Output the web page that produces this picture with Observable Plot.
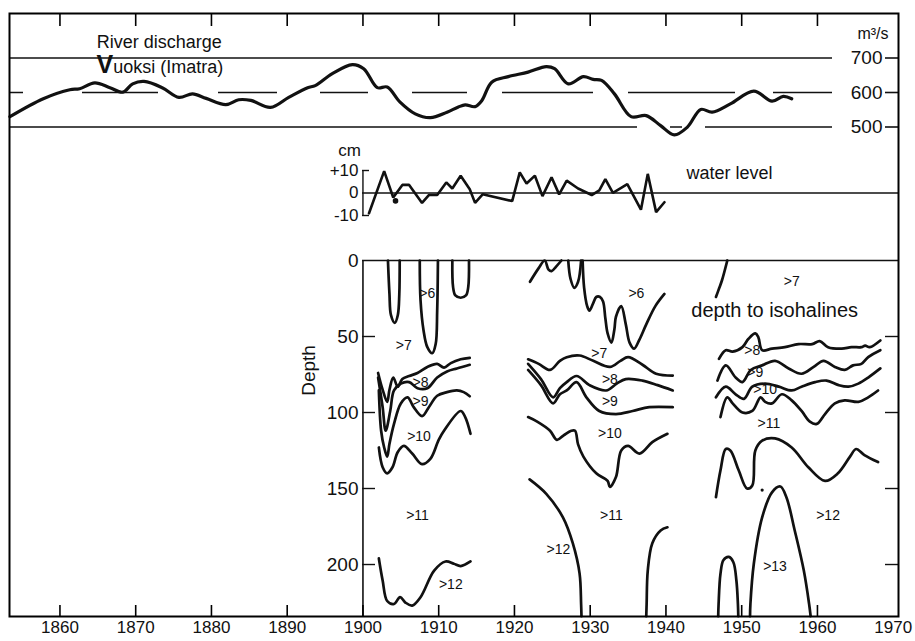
<!DOCTYPE html>
<html><head><meta charset="utf-8">
<script src="https://cdn.jsdelivr.net/npm/d3@7"></script>
<script src="https://cdn.jsdelivr.net/npm/@observablehq/plot@0.6"></script>
<style>
body{margin:0;background:#fff;}
#chart{width:915px;height:641px;}
</style></head><body><div id="chart"></div>
<script>
// ---------- shared axis ----------
const decadeTicks = [1860,1870,1880,1890,1900,1910,1920,1930,1940,1950,1960];
const yearLabels = [1860,1870,1880,1890,1900,1910,1920,1930,1940,1950,1960,1970];
const depthAxisYear = [1900];

// ---------- river discharge (m3/s) ----------
const dischargeYears = [1853.4,1857.8,1861.3,1862.6,1864.6,1866.6,1868.3,1869.6,1871.1,1873.5,1875.7,1877.5,1879.3,1881.9,1883.6,1885.2,1887.8,1890.2,1892.7,1893.7,1895.9,1898.6,1900.1,1901.9,1903.2,1904.9,1906.9,1908.9,1911.1,1912.6,1913.5,1914.8,1915.7,1917.0,1919.2,1921.8,1924.2,1925.3,1927.1,1929.1,1930.4,1931.5,1933.2,1935.4,1937.4,1939.3,1941.1,1942.8,1944.6,1946.1,1948.5,1951.6,1954.0,1955.5,1956.6];
const dischargeValues = [530,582,608,611,628,614,601,625,632,614,586,596,583,565,579,577,557,586,614,620,654,681,669,614,616,572,538,527,543,558,564,559,577,630,646,659,675,669,625,646,638,635,596,530,533,504,477,499,551,543,567,604,575,589,582];
const dischargeTicks = [500,600,700];

// ---------- water level (cm) ----------
const levelYears = [1900.8,1902.8,1904.0,1905.2,1906.1,1907.8,1908.7,1909.8,1911.0,1911.8,1912.9,1914.1,1914.8,1915.8,1919.7,1920.7,1921.6,1922.7,1923.7,1924.9,1925.9,1926.9,1928.4,1930.2,1931.2,1932.0,1933.0,1934.9,1936.7,1937.6,1938.7,1939.8];
const levelValues = [-9,9.7,-2,3.6,3.6,-4.4,-0.9,-0.9,4.7,2,7.7,1.7,-4.4,-0.6,-3.6,9.2,4.2,7.7,-1.4,7,-0.6,5.5,2,-0.9,1.2,6.2,0.1,3.9,-7.4,8.5,-8.5,-4.1];
const levelDot = [[1904.3,-3.5]];
const levelTicks = [-10,0,10];

// ---------- depth to isohalines (year, depth m) ----------
const iso6_1903 = [[1903.3,0],[1903.5,22],[1903.7,36],[1904.2,41],[1904.6,36],[1904.8,22],[1904.85,0]];
const iso6_1908 = [[1907.5,0],[1907.6,26],[1908.0,46],[1908.5,57],[1909.15,61],[1909.6,55],[1909.8,33],[1909.9,0]];
const iso6_1912 = [[1911.8,0],[1911.9,17.5],[1912.2,23],[1912.9,24.5],[1913.6,23],[1913.9,17.5],[1914.0,0]];
const iso8_a = [[1902.0,74],[1902.6,85],[1903.2,93],[1903.5,85],[1904.0,77],[1904.6,83],[1905.2,78],[1906.1,76],[1907.2,74],[1908.5,70],[1909.8,68],[1910.7,70.5],[1911.6,67.5],[1912.9,65],[1914.1,64]];
const iso9_a = [[1902.0,77],[1902.6,96.5],[1903.0,112],[1903.6,99],[1904.1,85.5],[1905.0,81],[1906.1,80],[1907.2,84],[1908.5,84],[1909.8,77],[1911.1,73],[1912.4,71],[1914.1,68.6]];
const iso10_a = [[1902.1,85.5],[1902.4,112],[1902.8,123],[1903.2,129],[1903.5,120.6],[1904.1,107.5],[1905.0,94],[1905.9,90],[1906.7,96.5],[1907.8,102.4],[1908.7,96.5],[1909.8,89],[1911.1,86.6],[1912.4,85.5],[1913.3,86.6],[1914.1,89.3]];
const iso11_a = [[1902.1,123],[1902.6,136],[1903.2,140],[1903.9,136],[1904.6,126],[1905.4,122],[1906.5,127],[1907.8,134],[1908.9,130.5],[1910.0,118],[1910.7,112],[1912.9,99],[1913.5,103],[1914.2,114]];
const iso12_a = [[1902.1,196],[1902.6,210.5],[1903.2,224],[1904.1,226],[1904.9,221.5],[1905.6,225],[1906.5,227],[1907.6,221.5],[1909.4,204],[1910.9,198],[1912.0,199.5],[1912.9,201],[1914.2,198]];

const iso6_1924 = [[1922.05,14],[1923.2,5],[1924.0,0],[1924.5,6],[1924.9,7],[1925.5,4],[1926.2,0]];
const iso6_1928 = [[1927.1,0],[1927.4,12],[1927.9,18],[1928.4,14],[1928.8,0]];
const iso6_1934 = [[1929.0,0],[1929.2,18],[1929.6,30],[1929.9,33],[1930.4,28],[1930.8,24],[1931.3,24],[1931.7,27],[1932.0,38],[1932.3,48],[1932.8,54],[1933.2,45],[1933.4,37],[1934.1,30],[1934.7,42],[1935.2,54],[1935.8,58],[1936.5,52],[1937.4,42],[1938.6,30],[1939.8,22]];
const iso7_b = [[1921.8,65],[1923.2,68],[1924.7,72],[1926.0,66],[1926.9,63.6],[1928.6,62.5],[1930.4,66],[1932.6,70],[1934.0,66],[1935.0,63.6],[1936.9,68.6],[1938.7,74.5],[1940.9,75.7]];
const iso8_b = [[1921.8,68],[1923.5,78],[1925.1,90],[1926.0,84],[1926.9,80],[1928.2,76],[1929.9,82],[1932.1,85.5],[1933.5,81],[1934.7,78],[1936.9,79],[1938.9,82],[1940.9,85.5]];
const iso9_b = [[1921.8,72],[1923.5,82],[1925.1,94],[1926.0,88],[1926.9,85.5],[1928.2,80],[1929.5,90],[1931.2,99],[1933.4,101],[1935.6,99],[1937.8,96.5],[1940.9,96.5]];
const iso10_b = [[1921.8,103],[1923.0,106],[1924.7,112],[1925.6,118],[1926.5,115],[1927.5,112],[1928.0,112],[1928.4,121],[1929.1,129],[1930.8,140],[1932.3,145],[1932.6,149],[1933.4,142.5],[1934.1,125],[1935.0,122],[1936.5,127],[1938.2,119.5],[1940.2,114]];
const iso12_b1 = [[1922.0,144],[1924.2,153.5],[1926.4,169],[1927.7,186],[1928.6,206],[1928.8,226],[1928.85,234]];
const iso12_b2 = [[1937.4,234],[1937.45,226],[1937.6,204],[1938.2,186],[1939.3,177.6],[1940.2,175.5]];

const iso7_c = [[1946.6,24],[1947.0,18.6],[1947.4,13],[1948.1,0]];
const iso8_c = [[1947.0,64.7],[1947.9,59],[1948.8,60],[1950.1,57],[1950.9,51.5],[1951.8,48],[1952.2,50.5],[1952.7,59],[1954.0,58],[1955.7,57],[1957.5,55],[1959.3,55],[1960.3,53],[1961.4,57],[1963.2,58],[1964.5,57],[1965.8,57],[1966.3,56],[1966.9,57],[1968.3,52.6]];
const iso9_c = [[1946.8,79],[1947.9,69],[1949.2,77],[1950.1,80],[1951.2,72],[1952.7,69],[1954.4,66],[1956.2,71],[1957.9,74.5],[1959.5,70],[1960.8,66],[1962.3,70],[1963.6,72],[1964.7,69],[1965.8,68],[1966.7,63.6],[1968.3,59]];
const iso10_c = [[1946.6,90],[1947.9,83],[1949.2,88],[1950.3,91],[1951.4,83],[1953.1,81],[1954.9,83],[1956.6,85.5],[1957.9,83],[1959.7,80],[1961.2,79],[1962.8,82],[1964.1,83],[1965.4,81],[1966.7,77],[1968.3,71]];
const iso11_c = [[1947.2,103],[1948.1,90],[1948.8,94],[1950.1,100],[1951.4,99],[1952.5,90],[1953.1,93],[1954.0,94],[1955.3,88],[1956.6,92],[1957.9,99],[1959.0,106],[1959.9,107.5],[1961.0,101],[1962.3,94],[1963.6,92],[1965.4,93],[1966.7,90],[1968.0,85.5]];
const iso12_c = [[1946.6,155.7],[1947.2,138],[1947.9,124],[1948.5,125],[1949.6,138],[1950.7,150],[1951.4,148],[1951.8,125],[1952.7,118.5],[1954.4,117],[1956.6,123],[1958.8,136],[1961.0,145],[1962.7,140],[1964.3,129],[1965.1,124],[1966.2,128],[1968.0,132.6]];
const iso13_c1 = [[1946.9,234],[1946.95,226],[1947.2,206],[1947.6,197],[1948.3,195],[1948.9,198.5],[1949.3,210.5],[1949.5,226],[1949.55,234]];
const iso13_c2 = [[1951.1,234],[1951.15,226],[1951.6,199.5],[1952.7,169],[1954.0,152.5],[1955.1,148.7],[1955.9,155.7],[1957.0,177.6],[1958.2,204],[1958.9,226],[1959.1,234]];
const isoDot = [[1952.7,151]];

const isoLabelYears = [1908.5,1905.4,1907.6,1907.6,1907.4,1907.2,1911.6, 1936.1,1931.2,1932.6,1932.6,1932.6,1932.8,1925.8, 1956.6,1951.4,1951.8,1953.1,1953.6,1961.4,1954.4];
const isoLabelDepths = [22,56,80,93,116,168,213, 22,61,78,93,114,168,190, 14,59,73.5,85,107.5,168,201];
const isoLabelTexts = [">6",">7",">8",">9",">10",">11",">12", ">6",">7",">8",">9",">10",">11",">12", ">7",">8",">9",">10",">11",">12",">13"];
const depthTicks = [0,50,100,150,200];

const isoCurves = [iso6_1903,iso6_1908,iso6_1912,iso8_a,iso9_a,iso10_a,iso11_a,iso12_a,
  iso6_1924,iso6_1928,iso6_1934,iso7_b,iso8_b,iso9_b,iso10_b,iso12_b1,iso12_b2,
  iso7_c,iso8_c,iso9_c,iso10_c,iso11_c,iso12_c,iso13_c1,iso13_c2];

// ---------- layout ----------
const W = 915, H = 641;
const FONT = "'Liberation Sans', Arial, sans-serif";
const xDomain = [1853.34, 1970.7];
const ink = "#111";
const base = {
  width: W, height: H,
  marginLeft: 9, marginRight: 17, marginTop: 13, marginBottom: 25,
  x: {domain: xDomain, axis: null},
  style: {background: "white", fontFamily: FONT, overflow: "visible"}
};

// Panel 3: depth to isohalines + time axis labels
const depthPlot = Plot.plot({
  ...base,
  y: {domain: [0, 234.2], range: [260, 616], axis: null},
  marks: [
    Plot.text(yearLabels, {x: d => d, text: d => String(d), frameAnchor: "bottom", dy: 16, fontSize: 17, fill: ink}),
    Plot.ruleX(depthAxisYear, {x: d => d, insetTop: 247, stroke: ink, strokeWidth: 1.6}),
    Plot.ruleY([0], {y: d => d, insetLeft: 353, stroke: ink, strokeWidth: 1.6}),
    Plot.tickY(depthTicks.slice(1), {y: d => d, insetLeft: 353, insetRight: 523, stroke: ink, strokeWidth: 1.4}),
    Plot.tickY(depthTicks.slice(1), {y: d => d, insetLeft: 876, stroke: ink, strokeWidth: 1.4}),
    Plot.text(depthTicks, {y: d => d, text: d => String(d), frameAnchor: "left", dx: 349, textAnchor: "end", fontSize: 19, fill: ink}),
    Plot.text(["Depth"], {y: () => 89, frameAnchor: "left", dx: 299, rotate: -90, fontSize: 19, fill: ink}),
    ...isoCurves.map(c => Plot.line(c, {x: d => d[0], y: d => d[1], curve: "catmull-rom", stroke: ink, strokeWidth: 2.7})),
    Plot.dot(isoDot, {x: d => d[0], y: d => d[1], r: 1.6, fill: ink}),
    Plot.text(isoLabelTexts, {x: (d, i) => isoLabelYears[i], y: (d, i) => isoLabelDepths[i], text: d => d, fontSize: 14, fill: ink}),
    Plot.text(["depth to isohalines"], {x: () => 1943.35, y: () => 33, text: d => d, textAnchor: "start", fontSize: 20, fill: ink})
  ]
});

// Panel 2: water level
const levelPlot = Plot.plot({
  ...base,
  y: {domain: [-10, 10], range: [215, 170], axis: null},
  marks: [
    Plot.ruleY([0], {y: d => d, insetLeft: 353, stroke: ink, strokeWidth: 1.4}),
    Plot.ruleX(depthAxisYear, {x: d => d, y1: levelTicks[0], y2: levelTicks[2], stroke: ink, strokeWidth: 1.4}),
    Plot.tickY([levelTicks[0], levelTicks[2]], {y: d => d, insetLeft: 353, insetRight: 529, stroke: ink, strokeWidth: 1.4}),
    Plot.text(levelTicks, {y: d => d, text: d => d > 0 ? "+" + d : String(d), frameAnchor: "left", dx: 349, textAnchor: "end", fontSize: 17, fill: ink}),
    Plot.text(["cm"], {y: () => 18.9, frameAnchor: "left", dx: 340, textAnchor: "middle", fontSize: 17, fill: ink}),
    Plot.line(levelYears, {x: d => d, y: (d, i) => levelValues[i], stroke: ink, strokeWidth: 2.6, strokeLinejoin: "miter"}),
    Plot.dot(levelDot, {x: d => d[0], y: d => d[1], r: 2.8, fill: ink}),
    Plot.text(["water level"], {x: () => 1942.7, y: () => 8.7, textAnchor: "start", fontSize: 18, fill: ink})
  ]
});

// Panel 1: river discharge
const dischargePlot = Plot.plot({
  ...base,
  y: {domain: [500, 700], range: [126.5, 57.5], axis: null},
  marks: [
    Plot.ruleY([700], {y: d => d, insetRight: 66, stroke: ink, strokeWidth: 1.4}),
    Plot.ruleY([500], {y: d => d, insetRight: 66, stroke: ink, strokeWidth: 1.4, strokeDasharray: "628,33,12,23,127"}),
    Plot.ruleY([600], {y: d => d, insetRight: 66, stroke: ink, strokeWidth: 1.4, strokeDasharray: "14,59,76,60,59,43,48,44,55,35,91,35,107,38,59"}),
    Plot.tickY(dischargeTicks, {y: d => d, insetLeft: 876, stroke: ink, strokeWidth: 1.6}),
    Plot.text(dischargeTicks, {y: d => d, text: d => String(d), frameAnchor: "right", dx: -16, textAnchor: "end", fontSize: 19, fill: ink}),
    Plot.text(["m³/s"], {y: () => 771, frameAnchor: "right", dx: -10, textAnchor: "end", fontSize: 16, fill: ink}),
    Plot.line(dischargeYears, {x: d => d, y: (d, i) => dischargeValues[i], curve: "catmull-rom", stroke: ink, strokeWidth: 3.2}),
    Plot.text(["River discharge"], {x: () => 1873.1, y: () => 745, fontSize: 18, fill: ink}),
    Plot.text(["Vuoksi (Imatra)"], {x: () => 1873.2, y: () => 672, fontSize: 18, fill: ink})
  ]
});

// Frame with inward decade ticks on top and bottom (drawn last)
const framePlot = Plot.plot({
  ...base,
  y: {domain: [0, 1], axis: null},
  marks: [
    Plot.frame({stroke: "#000", strokeWidth: 2}),
    Plot.ruleX(decadeTicks, {x: d => d, insetTop: 592, stroke: "#000", strokeWidth: 1.6}),
    Plot.ruleX(decadeTicks, {x: d => d, insetBottom: 590, stroke: "#000", strokeWidth: 1.6})
  ]
});

// enlarge the initial "V" of Vuoksi
d3.select(dischargePlot).selectAll("text").filter(function() { return this.textContent === "Vuoksi (Imatra)"; })
  .each(function() {
    const t = d3.select(this);
    t.text(null);
    t.append("tspan").attr("font-size", 25).attr("font-weight", "bold").text("V");
    t.append("tspan").text("uoksi (Imatra)");
  });

// merge the panels (same size, same x scale) into one SVG
for (const p of [levelPlot, dischargePlot, framePlot]) {
  for (const child of Array.from(p.children)) {
    if (child.tagName.toLowerCase() === "style") continue;
    depthPlot.appendChild(child);
  }
}
document.getElementById("chart").append(depthPlot);
</script>
</body></html>
